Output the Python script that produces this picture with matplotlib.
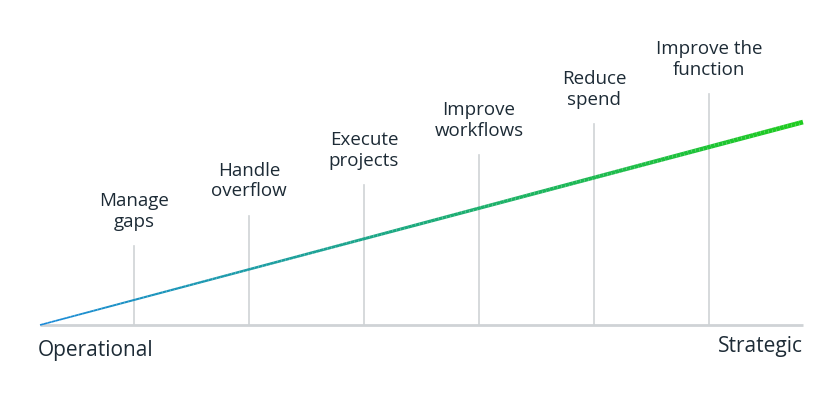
import numpy as np
import matplotlib.pyplot as plt
from matplotlib.collections import LineCollection
from matplotlib.colors import LinearSegmentedColormap

# stages along the operational -> strategic scale
labels = ["Manage\ngaps", "Handle\noverflow", "Execute\nprojects",
          "Improve\nworkflows", "Reduce\nspend", "Improve the\nfunction"]
stage_x = [1, 2, 3, 4, 5, 6]
stem_h = [1.04, 1.44, 1.84, 2.24, 2.64, 3.04]
line_start = 0.183
line_end = 6.817
line_end_h = 2.67

plt.rcParams['font.family'] = ['Open Sans', 'DejaVu Sans']
fig = plt.figure(figsize=(8.4, 4.0), dpi=100)
ax = fig.add_axes([0, 0, 1, 1])
ax.set_xlim(-0.165, 7.139)
ax.set_ylim(-0.987, 4.276)
ax.axis('off')

# baseline
ax.plot([line_start, line_end], [0, 0], color='#cfd3d6', lw=2, solid_capstyle='butt', zorder=1)

for x, h, lab in zip(stage_x, stem_h, labels):
    ax.plot([x, x], [0, h], color='#cfd3d6', lw=1.2, zorder=1)
    ax.text(x, h + 0.2, lab, ha='center', va='bottom', fontsize=13.5,
            color='#1d2b36', linespacing=1.2)

# gradient trend line
xs = np.linspace(line_start, line_end, 200)
ys = (xs - line_start) / (line_end - line_start) * line_end_h
pts = np.array([xs, ys]).T.reshape(-1, 1, 2)
segs = np.concatenate([pts[:-1], pts[1:]], axis=1)
cmap = LinearSegmentedColormap.from_list('bg', ['#1a8ad8', '#1fcc1f'])
lc = LineCollection(segs, cmap=cmap, linewidths=np.linspace(1.2, 3.4, len(segs)), zorder=2)
lc.set_array(np.linspace(0, 1, len(segs)))
ax.add_collection(lc)

ax.text(line_start - 0.02, -0.33, "Operational", ha='left', va='center', fontsize=15, color='#1d2b36')
ax.text(line_end, -0.28, "Strategic", ha='right', va='center', fontsize=15, color='#1d2b36')

fig.savefig('out.png', dpi=100, facecolor='white')
